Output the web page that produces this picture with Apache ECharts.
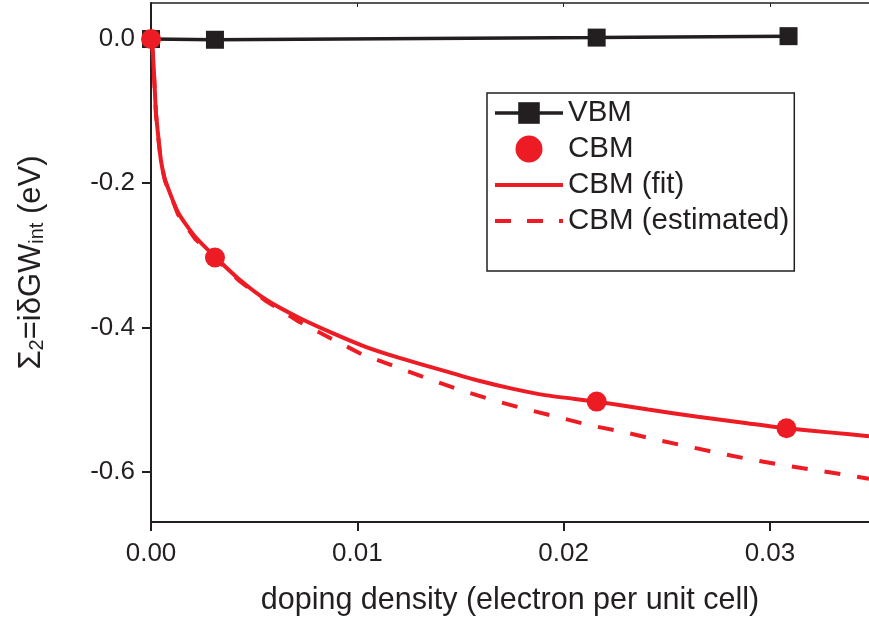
<!DOCTYPE html>
<html>
<head>
<meta charset="utf-8">
<script src="https://cdn.jsdelivr.net/npm/echarts@6/dist/echarts.min.js"></script>
<style>
html,body{margin:0;padding:0;background:#fff;}
#chart{width:869px;height:624px;}
</style>
</head>
<body>
<div id="chart"></div>
<script>
// ---- data ----
const xTicks = [0, 0.01, 0.02, 0.03];
const yTicks = [-0.6, -0.4, -0.2, 0.0];

const vbmX = [0, 0.0031, 0.0216, 0.0309];
const vbmY = [0.0, -0.001, 0.002, 0.004];

const cbmX = [0, 0.0031, 0.0216, 0.0308];
const cbmY = [0.0, -0.303, -0.503, -0.540];

const fitX = [0, 0.00008, 0.00016, 0.00024, 0.00037, 0.00048, 0.00068, 0.00132, 0.00213, 0.0031, 0.0043, 0.0056, 0.0072, 0.0088, 0.0104, 0.0120, 0.0143, 0.0159, 0.0175, 0.0191, 0.0216, 0.0241, 0.0265, 0.0289, 0.0308, 0.0330, 0.0348];
const fitY = [0, -0.015, -0.056, -0.102, -0.140, -0.168, -0.195, -0.241, -0.274, -0.302, -0.334, -0.362, -0.387, -0.408, -0.427, -0.442, -0.461, -0.474, -0.485, -0.494, -0.503, -0.514, -0.524, -0.533, -0.540, -0.546, -0.551];

const estX = [0, 0.00008, 0.00016, 0.00024, 0.00037, 0.00048, 0.00068, 0.00132, 0.00213, 0.0031, 0.0043, 0.0055, 0.0071, 0.0087, 0.0102, 0.0118, 0.0134, 0.0150, 0.0166, 0.0181, 0.0198, 0.0213, 0.0229, 0.0245, 0.0260, 0.0276, 0.0292, 0.0308, 0.0324, 0.0340, 0.0348];
const estY = [0, -0.016, -0.058, -0.104, -0.142, -0.170, -0.197, -0.244, -0.277, -0.304, -0.336, -0.362, -0.391, -0.415, -0.437, -0.454, -0.471, -0.487, -0.501, -0.513, -0.525, -0.536, -0.545, -0.556, -0.565, -0.575, -0.584, -0.592, -0.599, -0.606, -0.610];

const zip = (xs, ys) => xs.map((x, i) => [x, ys[i]]);

const BLACK = '#231f20';
const RED = '#ed1c24';
const FONT = '"Liberation Sans", Arial, Helvetica, sans-serif';

const chart = echarts.init(document.getElementById('chart'), null, {renderer: 'canvas'});
const option = {
  animation: false,
  backgroundColor: '#fff',
  textStyle: {fontFamily: FONT, color: BLACK},
  grid: {left: 151, top: 3, right: -2, bottom: 102, containLabel: false},
  legend: {
    orient: 'vertical',
    left: 487, top: 93,
    padding: [5, 5, 35, 6],
    borderColor: BLACK,
    borderWidth: 1.5,
    itemWidth: 68,
    itemHeight: 27,
    itemGap: 6,
    textStyle: {fontFamily: FONT, fontSize: 29.5, color: BLACK},
    data: [
      {name: 'VBM', lineStyle: {width: 3.5, color: BLACK}},
      {name: 'CBM'},
      {name: 'CBM (fit)', itemStyle: {opacity: 0}, lineStyle: {width: 4, color: RED}},
      {name: 'CBM (estimated)', itemStyle: {opacity: 0}, lineStyle: {width: 4, color: RED, type: [16, 16]}}
    ]
  },
  xAxis: [{
    type: 'value',
    min: 0, max: 0.0348,
    position: 'bottom',
    name: 'doping density (electron per unit cell)',
    nameLocation: 'middle',
    nameGap: 63,
    nameTextStyle: {fontFamily: FONT, fontSize: 30.5, color: BLACK},
    axisLine: {show: true, onZero: false, lineStyle: {color: BLACK, width: 2}},
    axisTick: {show: true, inside: false, length: 9, lineStyle: {color: BLACK, width: 2}, customValues: xTicks},
    axisLabel: {show: true, margin: 19, fontFamily: FONT, fontSize: 26, color: BLACK, customValues: xTicks,
      formatter: v => v.toFixed(2)},
    splitLine: {show: false}
  }, {
    type: 'value',
    min: 0, max: 0.0348,
    position: 'top',
    axisLine: {show: true, onZero: false, lineStyle: {color: BLACK, width: 1.5}},
    axisTick: {show: true, inside: true, length: 4, lineStyle: {color: BLACK, width: 1}, customValues: xTicks},
    axisLabel: {show: false},
    splitLine: {show: false}
  }],
  yAxis: [{
    type: 'value',
    min: -0.67, max: 0.05,
    name: '{m|Σ}{s|2}{m|=iδGW}{s|int}{m| (eV)}',
    nameLocation: 'middle',
    nameRotate: 90,
    nameGap: 104,
    nameTextStyle: {
      fontFamily: FONT, color: BLACK,
      rich: {
        m: {fontFamily: FONT, fontSize: 31, color: BLACK, lineHeight: 31, verticalAlign: 'middle'},
        s: {fontFamily: FONT, fontSize: 20, color: BLACK, lineHeight: 20, verticalAlign: 'bottom'}
      }
    },
    axisLine: {show: true, onZero: false, lineStyle: {color: BLACK, width: 2}},
    axisTick: {show: true, inside: false, length: 9, lineStyle: {color: BLACK, width: 2}, customValues: yTicks},
    axisLabel: {show: true, margin: 16, fontFamily: FONT, fontSize: 26, color: BLACK, customValues: yTicks,
      formatter: v => v.toFixed(1)},
    splitLine: {show: false}
  }],
  series: [
    {
      name: 'CBM (estimated)',
      type: 'line',
      data: zip(estX, estY),
      showSymbol: false,
      symbol: 'none',
      lineStyle: {color: RED, width: 4, type: [16, 17]},
      itemStyle: {color: RED},
      z: 2
    },
    {
      name: 'CBM (fit)',
      type: 'line',
      data: zip(fitX, fitY),
      showSymbol: false,
      symbol: 'none',
      smooth: 0.2,
      lineStyle: {color: RED, width: 4},
      itemStyle: {color: RED},
      z: 3
    },
    {
      name: 'VBM',
      type: 'line',
      data: zip(vbmX, vbmY),
      symbol: 'rect',
      symbolSize: 18,
      lineStyle: {color: BLACK, width: 3.5},
      itemStyle: {color: BLACK, opacity: 1},
      z: 4
    },
    {
      name: 'CBM',
      type: 'scatter',
      data: zip(cbmX, cbmY),
      symbol: 'circle',
      symbolSize: 20,
      itemStyle: {color: RED, opacity: 1},
      z: 5
    }
  ]
};
chart.setOption(option);
</script>
</body>
</html>
